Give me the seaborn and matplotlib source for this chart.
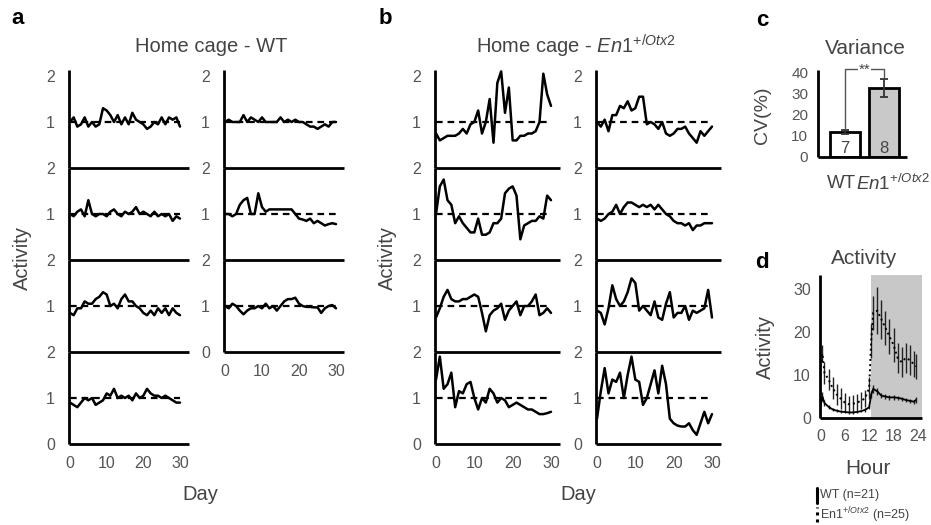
import matplotlib
matplotlib.use("Agg")
import matplotlib.pyplot as plt
from matplotlib.lines import Line2D
import numpy as np
import pandas as pd
import seaborn as sns

sns.set_theme(style="white")
plt.rcParams["font.family"] = ["Liberation Sans", "DejaVu Sans"]
plt.rcParams["mathtext.fontset"] = "custom"
plt.rcParams["mathtext.rm"] = "Liberation Sans"
plt.rcParams["mathtext.it"] = "Liberation Sans:italic"

# ---------------- data ----------------
days = list(range(31))

wt_left = [
    [1.0, 1.1, 0.9, 0.95, 1.1, 0.9, 1.0, 0.9, 0.95, 1.3, 1.25, 1.15, 1.0, 1.15, 0.95, 1.1,
     0.95, 1.2, 1.05, 1.0, 0.95, 0.85, 0.9, 1.0, 0.95, 1.1, 0.95, 1.1, 1.05, 1.1, 0.9],
    [1.0, 0.95, 1.05, 1.1, 0.95, 1.3, 1.0, 0.95, 1.0, 1.0, 0.95, 1.05, 1.1, 1.0, 0.95, 1.05,
     1.0, 1.05, 1.15, 1.0, 1.05, 1.0, 0.95, 1.05, 0.95, 1.0, 0.95, 1.0, 0.85, 0.95, 0.9],
    [0.85, 0.8, 0.95, 0.95, 1.1, 1.05, 1.05, 1.15, 1.2, 1.3, 1.25, 1.0, 1.05, 0.95, 1.15, 1.25,
     1.1, 1.1, 1.0, 0.95, 0.85, 0.8, 0.9, 0.8, 0.95, 0.85, 0.95, 0.8, 0.95, 0.85, 0.8],
    [0.9, 0.85, 0.8, 0.9, 1.0, 0.95, 1.0, 0.85, 0.9, 0.95, 1.1, 1.05, 1.2, 1.0, 1.05, 1.0,
     1.05, 0.95, 1.1, 1.0, 1.05, 1.2, 1.1, 1.05, 1.05, 1.0, 1.05, 1.0, 0.95, 0.9, 0.9],
]
wt_right = [
    [1.0, 1.05, 1.0, 1.0, 1.0, 1.15, 1.0, 1.1, 1.05, 1.0, 1.1, 1.0, 1.0, 1.0, 1.0, 1.1,
     1.0, 1.05, 1.0, 1.05, 1.0, 1.0, 0.95, 0.9, 0.9, 0.85, 0.9, 0.95, 0.9, 1.0, 1.0],
    [1.0, 1.0, 0.95, 1.0, 1.2, 1.3, 1.35, 1.0, 1.0, 1.45, 1.15, 1.05, 1.1, 1.1, 1.1, 1.1,
     1.1, 1.1, 1.1, 1.0, 0.9, 0.88, 0.85, 0.9, 0.8, 0.85, 0.8, 0.75, 0.78, 0.8, 0.78],
    [1.0, 0.95, 1.05, 1.0, 0.9, 0.82, 0.9, 0.95, 0.95, 1.0, 0.95, 1.05, 0.95, 1.0, 0.9, 1.0,
     1.1, 1.15, 1.15, 1.18, 1.05, 1.0, 0.98, 0.98, 0.97, 0.97, 0.85, 0.95, 1.0, 1.02, 0.95],
]
mut_left = [
    [0.75, 0.6, 0.65, 0.7, 0.7, 0.7, 0.75, 0.85, 0.75, 0.95, 1.0, 1.25, 0.75, 1.0, 1.5, 0.55,
     1.85, 2.1, 1.2, 1.75, 0.6, 0.6, 0.7, 0.7, 0.75, 0.75, 0.8, 1.0, 2.05, 1.6, 1.35],
    [1.0, 1.6, 1.75, 1.3, 1.2, 0.8, 0.95, 0.8, 0.7, 0.6, 0.6, 0.9, 0.55, 0.55, 0.6, 0.8,
     0.8, 0.9, 1.45, 1.55, 1.6, 1.4, 0.45, 0.75, 0.8, 0.85, 0.85, 0.95, 0.9, 1.4, 1.3],
    [0.75, 0.95, 1.2, 1.35, 1.15, 1.1, 1.1, 1.15, 1.15, 1.2, 1.25, 1.2, 0.85, 0.45, 0.8, 0.9,
     0.95, 1.05, 0.7, 0.9, 1.0, 1.1, 0.8, 1.0, 1.0, 1.1, 1.25, 0.8, 0.85, 0.95, 0.85],
    [1.4, 1.9, 1.2, 1.3, 1.55, 0.8, 1.15, 1.1, 1.3, 1.35, 1.0, 0.75, 1.0, 0.9, 1.2, 1.1,
     0.9, 1.0, 0.95, 0.8, 0.85, 0.9, 0.85, 0.8, 0.75, 0.75, 0.7, 0.65, 0.65, 0.67, 0.7],
]
mut_right = [
    [1.0, 0.9, 1.05, 0.8, 1.15, 1.15, 1.35, 1.3, 1.45, 1.25, 1.3, 1.55, 1.55, 0.95, 1.0, 0.95,
     0.85, 1.0, 0.75, 0.7, 0.75, 0.85, 0.85, 0.9, 0.75, 0.65, 0.55, 0.8, 0.7, 0.8, 0.9],
    [0.9, 0.85, 0.9, 1.0, 1.05, 1.2, 1.0, 1.15, 1.25, 1.25, 1.2, 1.15, 1.2, 1.15, 1.2, 1.1,
     1.2, 1.1, 1.0, 0.95, 0.85, 0.8, 0.8, 0.75, 0.8, 0.65, 0.75, 0.75, 0.8, 0.8, 0.8],
    [0.9, 0.85, 0.6, 0.95, 1.45, 1.15, 1.0, 1.1, 1.3, 1.6, 1.5, 0.9, 1.0, 0.9, 0.8, 1.1,
     0.75, 0.7, 1.05, 1.3, 0.75, 0.85, 0.85, 1.0, 0.7, 0.9, 0.85, 0.9, 0.95, 1.35, 0.75],
    [0.55, 1.15, 1.65, 1.1, 1.4, 1.35, 1.55, 1.0, 1.5, 1.9, 1.4, 1.35, 0.85, 1.0, 1.3, 1.6,
     1.1, 1.7, 1.3, 0.55, 0.45, 0.4, 0.38, 0.38, 0.45, 0.3, 0.2, 0.45, 0.7, 0.45, 0.65],
]

cv_groups = ["WT", "En1"]
cv_means = [11.8, 32.5]
cv_sem = [1.0, 4.3]
cv_n = ["7", "8"]

hours = [0, 0.5, 1, 2, 3, 4, 5, 6, 7, 8, 9, 10, 11, 12, 12.5, 13, 14, 15, 16, 17, 18, 19, 20, 21, 22, 23, 23.5]
wt_hour = [2.5, 5.0, 3.5, 2.6, 2.0, 1.7, 1.5, 1.4, 1.3, 1.3, 1.4, 1.6, 1.9, 2.5, 5.5, 6.8, 6.2, 5.2, 5.0, 4.8, 4.8, 4.7, 4.5, 4.2, 4.0, 3.8, 4.2]
wt_hour_err = [0.6, 1.0, 0.7, 0.5, 0.4, 0.3, 0.3, 0.3, 0.3, 0.3, 0.3, 0.3, 0.4, 0.5, 0.8, 1.0, 0.8, 0.6, 0.5, 0.5, 0.5, 0.5, 0.5, 0.5, 0.5, 0.5, 0.6]
mut_hour = [12.0, 15.0, 10.5, 9.0, 7.0, 5.5, 4.5, 3.6, 3.2, 3.3, 3.6, 4.0, 4.6, 7.0, 18.0, 24.5, 25.0, 23.0, 21.0, 19.0, 17.0, 14.0, 13.0, 14.0, 13.5, 12.5, 12.0]
mut_hour_err = [3.0, 2.0, 2.5, 2.5, 2.5, 2.5, 2.5, 2.2, 2.0, 2.0, 2.0, 2.0, 2.0, 2.5, 4.0, 4.0, 5.5, 4.5, 4.0, 4.0, 4.0, 3.5, 3.5, 3.5, 3.5, 3.0, 3.0]

# ---------------- figure ----------------
W, H = 931, 525
fig = plt.figure(figsize=(W / 100, H / 100), dpi=100)
TXT = "#444444"
TICK = "#555555"


def add_ax(l, t, r, b):
    ax = fig.add_axes([l / W, 1 - b / H, (r - l) / W, (b - t) / H])
    ax.patch.set_visible(False)
    return ax


def style_ax(ax):
    sns.despine(ax=ax)
    for s in ("left", "bottom"):
        ax.spines[s].set_linewidth(2.0)
        ax.spines[s].set_color("black")
        ax.spines[s].set_capstyle("butt")
    ax.tick_params(axis="both", which="both", direction="out", color="black",
                   labelcolor=TICK, labelsize=11.5, width=1.2)
    ax.set_xlabel("")
    ax.set_ylabel("")


def stacked_column(traces, left, right, x30, first_bottom=168):
    x0 = left + 1
    scale = (x30 - x0) / 30.0
    xmin = (left - x0) / scale
    xmax = (right - x0) / scale
    n = len(traces)
    for i, vals in enumerate(traces):
        bottom = first_bottom + 92 * i
        ytop = 2.12 if i == 0 else 2.0
        top = bottom - 92 * ytop / 2
        ax = add_ax(left, top, right, bottom)
        df = pd.DataFrame({"Day": days, "Activity": vals})
        ax.hlines(1, days[0], days[-1], colors="black", linestyles=(0, (3, 2.2)), lw=1.6)
        sns.lineplot(data=df, x="Day", y="Activity", ax=ax, color="black", lw=1.8)
        for ln in ax.lines:
            ln.set_clip_on(False)
        ax.set_xlim(xmin, xmax)
        ax.set_ylim(0, ytop)
        style_ax(ax)
        ax.set_yticks([0, 1, 2] if i == n - 1 else [1, 2])
        ax.set_yticks([0.5, 1.5], minor=True)
        ax.tick_params(axis="y", which="major", length=4, pad=6)
        ax.tick_params(axis="y", which="minor", length=4)
        if i == n - 1:
            ax.set_xticks([0, 10, 20, 30])
            ax.tick_params(axis="x", length=3, pad=6)
        else:
            ax.set_xticks([])


stacked_column(wt_left, 69, 189, 180)
stacked_column(wt_right, 224, 344, 336)
stacked_column(mut_left, 435, 560, 551)
stacked_column(mut_right, 596, 721, 712)


def ftext(x, y, s, **kw):
    return fig.text(x / W, 1 - y / H, s, **kw)


ftext(18, 18, "a", fontsize=16, fontweight="bold", color="black", ha="center", va="center")
ftext(385, 18, "b", fontsize=16, fontweight="bold", color="black", ha="center", va="center")
ftext(762, 20, "c", fontsize=16, fontweight="bold", color="black", ha="center", va="center")
ftext(762, 262, "d", fontsize=16, fontweight="bold", color="black", ha="center", va="center")

ftext(211, 46, "Home cage - WT", fontsize=14.5, color=TXT, ha="center", va="center")
ftext(576, 46, "Home cage - $\\mathit{En1}^{\\mathit{+/Otx2}}$", fontsize=14.5, color=TXT,
      ha="center", va="center")
ftext(22, 258, "Activity", fontsize=14.5, color=TXT, ha="center", va="center", rotation=90)
ftext(387, 258, "Activity", fontsize=14.5, color=TXT, ha="center", va="center", rotation=90)
ftext(200, 495, "Day", fontsize=14.5, color=TXT, ha="center", va="center")
ftext(578, 495, "Day", fontsize=14.5, color=TXT, ha="center", va="center")

# ---------------- panel c ----------------
axc = add_ax(818, 70, 907, 157)
dfc = pd.DataFrame({"group": cv_groups, "cv": cv_means})
sns.barplot(data=dfc, x="group", y="cv", hue="group", palette=["white", "#c9c9c9"],
            edgecolor="black", linewidth=2, width=0.78, errorbar=None, legend=False, ax=axc)
axc.errorbar([0, 1], cv_means, yerr=cv_sem, fmt="none", ecolor="#333333", elinewidth=1.3,
             capsize=3, capthick=1.3)
axc.set_xlim(-0.7, 1.6)
axc.set_ylim(0, 41)
style_ax(axc)
axc.set_xticks([])
axc.set_yticks([0, 10, 20, 30, 40])
axc.tick_params(axis="y", length=4, pad=3, labelsize=11)
for i, lab in enumerate(cv_n):
    axc.text(i, 4.2, lab, ha="center", va="center", fontsize=12, color=TXT)
top_b = max(m + e for m, e in zip(cv_means, cv_sem)) + 4.5
axc.plot([0, 0, 1, 1], [cv_means[0] + cv_sem[0] + 0.8, top_b, top_b, cv_means[1] + cv_sem[1] + 0.6],
         color="#555555", lw=1.0, clip_on=False)
axc.text(0.5, top_b, "**", ha="center", va="center", fontsize=11, color=TXT,
         bbox=dict(facecolor="white", edgecolor="none", pad=0.5))
ftext(865, 48, "Variance", fontsize=15, color=TXT, ha="center", va="center")
ftext(763, 115, "CV(%)", fontsize=14, color=TXT, ha="center", va="center", rotation=90)
ftext(856, 184, "WT", fontsize=13.5, color=TXT, ha="right", va="center")
ftext(856, 184, "$\\mathit{En1}^{\\mathit{+/Otx2}}$", fontsize=13.5, color=TXT, ha="left", va="center")

# ---------------- panel d ----------------
axd = add_ax(820, 275, 922, 418)
axd.axvspan(12.4, 25, ymin=0, ymax=1, color="#c8c8c8", lw=0, zorder=0)
dfd = pd.DataFrame({"hour": hours, "wt": wt_hour, "mut": mut_hour})
axd.errorbar(hours, mut_hour, yerr=mut_hour_err, fmt="none", ecolor="#222222", elinewidth=1.0)
axd.errorbar(hours, wt_hour, yerr=wt_hour_err, fmt="none", ecolor="#222222", elinewidth=1.0)
sns.lineplot(data=dfd, x="hour", y="mut", ax=axd, color="black", lw=1.4, linestyle=":")
sns.lineplot(data=dfd, x="hour", y="wt", ax=axd, color="black", lw=1.3)
axd.set_xlim(-0.1, 25)
axd.set_ylim(0, 33.3)
style_ax(axd)
axd.set_xticks([0, 6, 12, 18, 24])
axd.set_yticks([0, 10, 20, 30])
axd.tick_params(axis="both", length=3, labelsize=11.5)
axd.tick_params(axis="x", pad=5)
ftext(864, 258, "Activity", fontsize=15, color=TXT, ha="center", va="center")
ftext(765, 347, "Activity", fontsize=14.5, color=TXT, ha="center", va="center", rotation=90)
ftext(868, 468, "Hour", fontsize=15, color=TXT, ha="center", va="center")

# legend
fig.add_artist(Line2D([817 / W, 817 / W], [1 - 503 / H, 1 - 488 / H], color="black", lw=2.2))
fig.add_artist(Line2D([817 / W, 817 / W], [1 - 522 / H, 1 - 507 / H], color="black", lw=2.2,
                      linestyle=(0, (1, 1.3))))
ftext(820, 495, "WT (n=21)", fontsize=9, color=TXT, ha="left", va="center")
ftext(820, 515, "En1$^{+/Otx2}$ (n=25)", fontsize=9, color=TXT, ha="left", va="center")

fig.savefig("out.png", dpi=100)
